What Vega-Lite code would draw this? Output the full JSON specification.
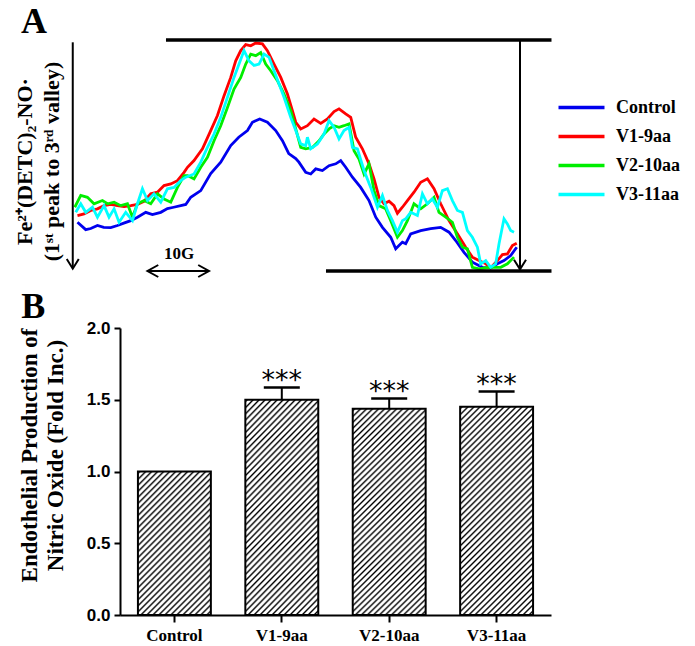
{
"$schema": "https://vega.github.io/schema/vega-lite/v6.json",
"background": "white",
"padding": {"left": 13, "top": 4, "right": 5, "bottom": 5},
"spacing": 8,
"config": {"view": {"stroke": null}, "font": "Liberation Serif"},
"datasets": {
"epr": [
{"series":"Control","field":0.75,"signal":21.1},{"series":"Control","field":2.06,"signal":17.9},{"series":"Control","field":2.86,"signal":18.4},{"series":"Control","field":3.92,"signal":19.7},{"series":"Control","field":4.92,"signal":18.9},{"series":"Control","field":6.03,"signal":18.8},{"series":"Control","field":7.1,"signal":19.7},{"series":"Control","field":8.1,"signal":20.7},{"series":"Control","field":9.21,"signal":21.8},{"series":"Control","field":10.27,"signal":23.3},{"series":"Control","field":11.59,"signal":25.4},{"series":"Control","field":12.65,"signal":24.4},{"series":"Control","field":13.97,"signal":25.4},{"series":"Control","field":15.03,"signal":27.0},{"series":"Control","field":16.03,"signal":27.6},{"series":"Control","field":17.14,"signal":28.3},{"series":"Control","field":17.94,"signal":28.8},{"series":"Control","field":18.73,"signal":31.9},{"series":"Control","field":20.32,"signal":34.8},{"series":"Control","field":21.9,"signal":42.2},{"series":"Control","field":23.49,"signal":47.1},{"series":"Control","field":25.08,"signal":54.3},{"series":"Control","field":26.35,"signal":57.9},{"series":"Control","field":27.73,"signal":60.8},{"series":"Control","field":28.52,"signal":64.4},{"series":"Control","field":29.68,"signal":65.8},{"series":"Control","field":30.9,"signal":64.4},{"series":"Control","field":32.22,"signal":60.8},{"series":"Control","field":33.29,"signal":56.4},{"series":"Control","field":34.29,"signal":50.8},{"series":"Control","field":35.4,"signal":48.7},{"series":"Control","field":35.9,"signal":47.1},{"series":"Control","field":36.98,"signal":42.7},{"series":"Control","field":37.78,"signal":42.0},{"series":"Control","field":38.57,"signal":44.2},{"series":"Control","field":39.63,"signal":43.5},{"series":"Control","field":40.68,"signal":45.6},{"series":"Control","field":41.75,"signal":46.4},{"series":"Control","field":42.54,"signal":47.8},{"series":"Control","field":43.33,"signal":44.9},{"series":"Control","field":44.4,"signal":40.6},{"series":"Control","field":45.71,"signal":36.2},{"series":"Control","field":47.03,"signal":30.5},{"series":"Control","field":48.1,"signal":23.3},{"series":"Control","field":49.16,"signal":18.9},{"series":"Control","field":50.48,"signal":14.6},{"series":"Control","field":51.27,"signal":9.6},{"series":"Control","field":52.33,"signal":12.5},{"series":"Control","field":52.86,"signal":11.8},{"series":"Control","field":53.65,"signal":16.1},{"series":"Control","field":55.24,"signal":17.5},{"series":"Control","field":56.83,"signal":18.3},{"series":"Control","field":58.41,"signal":18.9},{"series":"Control","field":59.73,"signal":16.8},{"series":"Control","field":60.79,"signal":13.2},{"series":"Control","field":62.11,"signal":8.1},{"series":"Control","field":63.44,"signal":3.8},{"series":"Control","field":65.03,"signal":1.6},{"series":"Control","field":66.35,"signal":1.4},{"series":"Control","field":67.41,"signal":3.1},{"series":"Control","field":68.46,"signal":4.5},{"series":"Control","field":69.52,"signal":6.7},{"series":"Control","field":70.48,"signal":10.3},
{"series":"V1-9aa","field":0.75,"signal":24.0},{"series":"V1-9aa","field":1.79,"signal":24.7},{"series":"V1-9aa","field":2.86,"signal":26.2},{"series":"V1-9aa","field":3.92,"signal":26.9},{"series":"V1-9aa","field":4.97,"signal":28.3},{"series":"V1-9aa","field":6.03,"signal":28.8},{"series":"V1-9aa","field":7.1,"signal":28.3},{"series":"V1-9aa","field":8.14,"signal":27.9},{"series":"V1-9aa","field":9.21,"signal":28.3},{"series":"V1-9aa","field":10.27,"signal":28.8},{"series":"V1-9aa","field":11.32,"signal":30.2},{"series":"V1-9aa","field":12.38,"signal":33.4},{"series":"V1-9aa","field":13.44,"signal":34.1},{"series":"V1-9aa","field":14.49,"signal":37.0},{"series":"V1-9aa","field":15.56,"signal":37.7},{"series":"V1-9aa","field":16.62,"signal":39.1},{"series":"V1-9aa","field":17.67,"signal":42.7},{"series":"V1-9aa","field":18.21,"signal":44.9},{"series":"V1-9aa","field":19.25,"signal":47.8},{"series":"V1-9aa","field":20.59,"signal":52.9},{"series":"V1-9aa","field":21.9,"signal":60.8},{"series":"V1-9aa","field":22.97,"signal":67.3},{"series":"V1-9aa","field":24.02,"signal":75.9},{"series":"V1-9aa","field":25.08,"signal":83.8},{"series":"V1-9aa","field":25.87,"signal":91.0},{"series":"V1-9aa","field":26.67,"signal":95.4},{"series":"V1-9aa","field":27.46,"signal":98.0},{"series":"V1-9aa","field":28.25,"signal":97.5},{"series":"V1-9aa","field":29.05,"signal":98.7},{"series":"V1-9aa","field":30.11,"signal":98.3},{"series":"V1-9aa","field":30.9,"signal":95.4},{"series":"V1-9aa","field":31.95,"signal":89.6},{"series":"V1-9aa","field":33.02,"signal":83.8},{"series":"V1-9aa","field":34.08,"signal":76.6},{"series":"V1-9aa","field":34.87,"signal":69.4},{"series":"V1-9aa","field":35.4,"signal":64.4},{"series":"V1-9aa","field":36.19,"signal":61.5},{"series":"V1-9aa","field":37.25,"signal":62.9},{"series":"V1-9aa","field":38.3,"signal":65.8},{"series":"V1-9aa","field":39.37,"signal":63.9},{"series":"V1-9aa","field":40.43,"signal":65.8},{"series":"V1-9aa","field":41.48,"signal":69.0},{"series":"V1-9aa","field":42.27,"signal":70.2},{"series":"V1-9aa","field":43.33,"signal":68.0},{"series":"V1-9aa","field":44.13,"signal":66.5},{"series":"V1-9aa","field":44.92,"signal":57.9},{"series":"V1-9aa","field":45.98,"signal":52.9},{"series":"V1-9aa","field":47.03,"signal":46.4},{"series":"V1-9aa","field":47.83,"signal":39.9},{"series":"V1-9aa","field":48.62,"signal":31.9},{"series":"V1-9aa","field":49.41,"signal":29.1},{"series":"V1-9aa","field":50.21,"signal":30.2},{"series":"V1-9aa","field":51.0,"signal":28.3},{"series":"V1-9aa","field":51.54,"signal":25.0},{"series":"V1-9aa","field":52.33,"signal":27.6},{"series":"V1-9aa","field":53.13,"signal":30.5},{"series":"V1-9aa","field":54.17,"signal":34.1},{"series":"V1-9aa","field":55.24,"signal":38.4},{"series":"V1-9aa","field":56.3,"signal":39.9},{"series":"V1-9aa","field":57.35,"signal":35.6},{"series":"V1-9aa","field":58.41,"signal":29.1},{"series":"V1-9aa","field":59.73,"signal":21.8},{"series":"V1-9aa","field":61.06,"signal":16.1},{"series":"V1-9aa","field":62.38,"signal":10.3},{"series":"V1-9aa","field":63.44,"signal":6.0},{"series":"V1-9aa","field":64.49,"signal":4.5},{"series":"V1-9aa","field":65.56,"signal":3.1},{"series":"V1-9aa","field":66.35,"signal":1.4},{"series":"V1-9aa","field":67.41,"signal":4.5},{"series":"V1-9aa","field":68.21,"signal":7.1},{"series":"V1-9aa","field":69.0,"signal":7.4},{"series":"V1-9aa","field":69.79,"signal":11.0},{"series":"V1-9aa","field":70.48,"signal":12.0},
{"series":"V2-10aa","field":0.32,"signal":27.6},{"series":"V2-10aa","field":1.27,"signal":32.7},{"series":"V2-10aa","field":2.33,"signal":31.9},{"series":"V2-10aa","field":3.38,"signal":29.1},{"series":"V2-10aa","field":4.71,"signal":30.5},{"series":"V2-10aa","field":5.51,"signal":29.1},{"series":"V2-10aa","field":6.56,"signal":29.8},{"series":"V2-10aa","field":7.62,"signal":28.3},{"series":"V2-10aa","field":8.68,"signal":29.1},{"series":"V2-10aa","field":9.48,"signal":23.3},{"series":"V2-10aa","field":10.27,"signal":29.1},{"series":"V2-10aa","field":11.32,"signal":30.5},{"series":"V2-10aa","field":12.38,"signal":29.1},{"series":"V2-10aa","field":13.44,"signal":33.4},{"series":"V2-10aa","field":14.49,"signal":31.2},{"series":"V2-10aa","field":15.56,"signal":29.8},{"series":"V2-10aa","field":16.62,"signal":36.2},{"series":"V2-10aa","field":17.67,"signal":41.3},{"series":"V2-10aa","field":18.21,"signal":41.3},{"series":"V2-10aa","field":19.25,"signal":39.9},{"series":"V2-10aa","field":20.32,"signal":44.9},{"series":"V2-10aa","field":21.38,"signal":49.2},{"series":"V2-10aa","field":22.43,"signal":56.4},{"series":"V2-10aa","field":23.49,"signal":62.9},{"series":"V2-10aa","field":24.56,"signal":70.8},{"series":"V2-10aa","field":25.6,"signal":78.8},{"series":"V2-10aa","field":26.67,"signal":83.8},{"series":"V2-10aa","field":27.46,"signal":89.6},{"series":"V2-10aa","field":28.25,"signal":93.9},{"series":"V2-10aa","field":29.05,"signal":93.2},{"series":"V2-10aa","field":29.84,"signal":94.6},{"series":"V2-10aa","field":30.63,"signal":89.6},{"series":"V2-10aa","field":31.43,"signal":86.7},{"series":"V2-10aa","field":32.49,"signal":82.4},{"series":"V2-10aa","field":33.54,"signal":76.6},{"series":"V2-10aa","field":34.6,"signal":69.4},{"series":"V2-10aa","field":35.4,"signal":61.5},{"series":"V2-10aa","field":36.19,"signal":53.5},{"series":"V2-10aa","field":36.98,"signal":52.9},{"series":"V2-10aa","field":38.05,"signal":53.5},{"series":"V2-10aa","field":39.1,"signal":56.4},{"series":"V2-10aa","field":39.89,"signal":59.3},{"series":"V2-10aa","field":40.68,"signal":61.5},{"series":"V2-10aa","field":41.48,"signal":62.9},{"series":"V2-10aa","field":42.27,"signal":62.2},{"series":"V2-10aa","field":43.06,"signal":62.9},{"series":"V2-10aa","field":43.86,"signal":63.7},{"series":"V2-10aa","field":44.65,"signal":52.1},{"series":"V2-10aa","field":45.44,"signal":48.5},{"series":"V2-10aa","field":46.24,"signal":42.0},{"series":"V2-10aa","field":47.03,"signal":46.4},{"series":"V2-10aa","field":47.83,"signal":34.8},{"series":"V2-10aa","field":48.62,"signal":28.3},{"series":"V2-10aa","field":49.68,"signal":26.9},{"series":"V2-10aa","field":50.48,"signal":21.8},{"series":"V2-10aa","field":51.54,"signal":14.6},{"series":"V2-10aa","field":52.33,"signal":17.5},{"series":"V2-10aa","field":53.13,"signal":21.8},{"series":"V2-10aa","field":54.17,"signal":29.1},{"series":"V2-10aa","field":55.24,"signal":26.9},{"series":"V2-10aa","field":56.3,"signal":29.1},{"series":"V2-10aa","field":57.35,"signal":31.9},{"series":"V2-10aa","field":58.14,"signal":25.4},{"series":"V2-10aa","field":59.21,"signal":23.3},{"series":"V2-10aa","field":60.27,"signal":21.1},{"series":"V2-10aa","field":61.06,"signal":14.6},{"series":"V2-10aa","field":61.86,"signal":10.3},{"series":"V2-10aa","field":62.65,"signal":9.6},{"series":"V2-10aa","field":63.44,"signal":1.6},{"series":"V2-10aa","field":64.49,"signal":0.95},{"series":"V2-10aa","field":65.56,"signal":1.4},{"series":"V2-10aa","field":66.62,"signal":1.6},{"series":"V2-10aa","field":67.94,"signal":1.6},{"series":"V2-10aa","field":69.0,"signal":3.1},{"series":"V2-10aa","field":70.05,"signal":6.0},
{"series":"V3-11aa","field":0.48,"signal":25.4},{"series":"V3-11aa","field":1.27,"signal":29.1},{"series":"V3-11aa","field":2.06,"signal":25.4},{"series":"V3-11aa","field":3.13,"signal":27.6},{"series":"V3-11aa","field":3.92,"signal":23.3},{"series":"V3-11aa","field":4.97,"signal":28.3},{"series":"V3-11aa","field":5.76,"signal":23.3},{"series":"V3-11aa","field":6.56,"signal":26.9},{"series":"V3-11aa","field":7.35,"signal":21.1},{"series":"V3-11aa","field":8.41,"signal":25.4},{"series":"V3-11aa","field":9.48,"signal":21.8},{"series":"V3-11aa","field":10.27,"signal":29.1},{"series":"V3-11aa","field":11.06,"signal":35.6},{"series":"V3-11aa","field":11.86,"signal":30.5},{"series":"V3-11aa","field":12.9,"signal":33.4},{"series":"V3-11aa","field":13.97,"signal":29.8},{"series":"V3-11aa","field":15.03,"signal":35.6},{"series":"V3-11aa","field":16.08,"signal":36.2},{"series":"V3-11aa","field":17.14,"signal":39.1},{"series":"V3-11aa","field":17.94,"signal":40.6},{"series":"V3-11aa","field":19.25,"signal":42.0},{"series":"V3-11aa","field":20.32,"signal":47.1},{"series":"V3-11aa","field":21.38,"signal":53.5},{"series":"V3-11aa","field":22.43,"signal":59.3},{"series":"V3-11aa","field":23.49,"signal":66.5},{"series":"V3-11aa","field":24.56,"signal":75.2},{"series":"V3-11aa","field":25.6,"signal":83.8},{"series":"V3-11aa","field":26.4,"signal":89.6},{"series":"V3-11aa","field":27.19,"signal":95.4},{"series":"V3-11aa","field":27.98,"signal":91.0},{"series":"V3-11aa","field":28.78,"signal":89.0},{"series":"V3-11aa","field":29.57,"signal":89.6},{"series":"V3-11aa","field":30.37,"signal":93.9},{"series":"V3-11aa","field":31.16,"signal":92.5},{"series":"V3-11aa","field":31.95,"signal":86.7},{"series":"V3-11aa","field":32.75,"signal":81.0},{"series":"V3-11aa","field":33.54,"signal":75.2},{"series":"V3-11aa","field":34.6,"signal":66.5},{"series":"V3-11aa","field":35.4,"signal":60.8},{"series":"V3-11aa","field":36.19,"signal":55.0},{"series":"V3-11aa","field":36.98,"signal":54.3},{"series":"V3-11aa","field":37.25,"signal":57.9},{"series":"V3-11aa","field":37.78,"signal":52.9},{"series":"V3-11aa","field":38.84,"signal":55.0},{"series":"V3-11aa","field":39.89,"signal":59.3},{"series":"V3-11aa","field":40.68,"signal":65.1},{"series":"V3-11aa","field":41.48,"signal":62.2},{"series":"V3-11aa","field":42.27,"signal":57.2},{"series":"V3-11aa","field":43.06,"signal":60.8},{"series":"V3-11aa","field":43.86,"signal":62.2},{"series":"V3-11aa","field":44.4,"signal":53.5},{"series":"V3-11aa","field":45.19,"signal":52.9},{"series":"V3-11aa","field":46.24,"signal":43.5},{"series":"V3-11aa","field":47.3,"signal":36.2},{"series":"V3-11aa","field":48.37,"signal":27.6},{"series":"V3-11aa","field":49.16,"signal":32.7},{"series":"V3-11aa","field":49.95,"signal":26.2},{"series":"V3-11aa","field":50.75,"signal":21.8},{"series":"V3-11aa","field":51.54,"signal":16.8},{"series":"V3-11aa","field":52.33,"signal":21.8},{"series":"V3-11aa","field":52.86,"signal":22.6},{"series":"V3-11aa","field":53.65,"signal":25.4},{"series":"V3-11aa","field":54.71,"signal":24.0},{"series":"V3-11aa","field":55.51,"signal":33.4},{"series":"V3-11aa","field":56.3,"signal":29.1},{"series":"V3-11aa","field":57.1,"signal":31.2},{"series":"V3-11aa","field":57.89,"signal":27.6},{"series":"V3-11aa","field":58.68,"signal":34.8},{"series":"V3-11aa","field":59.48,"signal":35.6},{"series":"V3-11aa","field":60.27,"signal":30.5},{"series":"V3-11aa","field":61.06,"signal":26.2},{"series":"V3-11aa","field":61.86,"signal":25.4},{"series":"V3-11aa","field":62.65,"signal":17.5},{"series":"V3-11aa","field":63.44,"signal":14.6},{"series":"V3-11aa","field":64.24,"signal":10.3},{"series":"V3-11aa","field":64.76,"signal":3.1},{"series":"V3-11aa","field":65.56,"signal":4.5},{"series":"V3-11aa","field":66.35,"signal":1.6},{"series":"V3-11aa","field":67.14,"signal":3.1},{"series":"V3-11aa","field":67.67,"signal":11.8},{"series":"V3-11aa","field":68.46,"signal":22.6},{"series":"V3-11aa","field":69.0,"signal":20.4},{"series":"V3-11aa","field":69.52,"signal":17.5},{"series":"V3-11aa","field":70.05,"signal":16.8}
],
"bars": [
{"group":"Control","value":1.0,"upper":1.0,"sig":""},
{"group":"V1-9aa","value":1.5,"upper":1.586,"sig":"***"},
{"group":"V2-10aa","value":1.437,"upper":1.509,"sig":"***"},
{"group":"V3-11aa","value":1.451,"upper":1.558,"sig":"***"}
]
},
"vconcat": [
{
"title": {"text": "A", "anchor": "start", "frame": "bounds", "font": "Liberation Serif", "fontWeight": "bold", "fontSize": 36, "color": "black", "offset": -4, "dx": 8},
"width": 432,
"height": 231,
"layer": [
{
"data": {"name": "epr"},
"mark": {"type": "line", "strokeWidth": 2.8, "clip": false},
"encoding": {
"x": {"field": "field", "type": "quantitative", "scale": {"domain": [7.5, 76.08], "nice": false, "zero": false}, "axis": null},
"y": {"field": "signal", "type": "quantitative", "scale": {"domain": [0, 100], "nice": false}, "axis": {"title": ["Fe²⁺(DETC)₂-NO·", "(1ˢᵗ peak to 3ʳᵈ valley)"], "titleFont": "Liberation Serif", "titleFontWeight": "bold", "titleFontSize": 22, "titleColor": "black", "titleLineHeight": 27, "titlePadding": 57, "titleY": 121, "labels": false, "ticks": false, "domain": false, "grid": false}},
"color": {"field": "series", "type": "nominal", "scale": {"domain": ["Control", "V1-9aa", "V2-10aa", "V3-11aa"], "range": ["#0000ee", "#ff0000", "#00ee00", "#00ffff"]}, "legend": {"orient": "none", "legendX": 452, "legendY": 58, "title": null, "symbolType": "M-3,0H3", "symbolSize": 235, "symbolStrokeWidth": 3.5, "labelFont": "Liberation Serif", "labelFontWeight": "bold", "labelFontSize": 18, "labelColor": "black", "rowPadding": 10, "labelOffset": 25}}
}
},
{"data": {"values": [{}]}, "mark": {"type": "rule", "strokeWidth": 3.3, "color": "black"}, "encoding": {"x": {"datum": 14.8}, "x2": {"datum": 76.0}, "y": {"datum": 100}}},
{"data": {"values": [{}]}, "mark": {"type": "rule", "strokeWidth": 3.3, "color": "black"}, "encoding": {"x": {"datum": 40.2}, "x2": {"datum": 76.0}, "y": {"datum": 0}}},
{"data": {"values": [{}]}, "mark": {"type": "rule", "strokeWidth": 2, "color": "black"}, "encoding": {"x": {"datum": 71.0}, "y": {"datum": 100}, "y2": {"datum": 0.8}}},
{"data": {"values": [{}]}, "mark": {"type": "rule", "strokeWidth": 2, "color": "black"}, "encoding": {"x": {"datum": 0}, "y": {"datum": 99}, "y2": {"datum": 1.2}}},
{"data": {"values": [{}]}, "mark": {"type": "point", "shape": "M-1,-1.6L0,0L1,-1.6", "filled": false, "size": 144, "strokeWidth": 2, "color": "black", "opacity": 1}, "encoding": {"x": {"datum": 71.0}, "y": {"datum": 0.7}}},
{"data": {"values": [{}]}, "mark": {"type": "point", "shape": "M-1,-1.6L0,0L1,-1.6", "filled": false, "size": 144, "strokeWidth": 2, "color": "black", "opacity": 1}, "encoding": {"x": {"datum": 0}, "y": {"datum": 1.0}}},
{"data": {"values": [{}]}, "mark": {"type": "rule", "strokeWidth": 2, "color": "black"}, "encoding": {"x": {"datum": 11.86}, "x2": {"datum": 21.63}, "y": {"datum": 0}}},
{"data": {"values": [{}]}, "mark": {"type": "point", "shape": "M1.8,-1L0,0L1.8,1", "filled": false, "size": 144, "strokeWidth": 2, "color": "black", "opacity": 1}, "encoding": {"x": {"datum": 11.86}, "y": {"datum": 0}}},
{"data": {"values": [{}]}, "mark": {"type": "point", "shape": "M-1.8,-1L0,0L-1.8,1", "filled": false, "size": 144, "strokeWidth": 2, "color": "black", "opacity": 1}, "encoding": {"x": {"datum": 21.63}, "y": {"datum": 0}}},
{"data": {"values": [{"label": "10G"}]}, "mark": {"type": "text", "font": "Liberation Serif", "fontWeight": "bold", "fontSize": 17, "color": "black", "baseline": "alphabetic", "align": "center"}, "encoding": {"x": {"datum": 16.9}, "y": {"datum": 5.4}, "text": {"field": "label"}}}
]
},
{
"title": {"text": "B", "anchor": "start", "frame": "bounds", "font": "Liberation Serif", "fontWeight": "bold", "fontSize": 36, "color": "black", "offset": -7, "dx": 3},
"width": 431,
"height": 287,
"data": {"name": "bars"},
"encoding": {
"x": {"field": "group", "type": "nominal", "sort": null, "scale": {"domain": ["Control", "V1-9aa", "V2-10aa", "V3-11aa"], "paddingInner": 0.321, "paddingOuter": 0.167}, "axis": {"title": null, "labelFont": "Liberation Serif", "labelFontWeight": "bold", "labelFontSize": 17, "labelColor": "black", "labelAngle": 0, "tickColor": "black", "tickWidth": 2, "tickSize": 7, "domainColor": "black", "domainWidth": 2, "labelPadding": 5}}
},
"layer": [
{
"transform": [{"filter": "datum.group === 'Control'"}],
"mark": {"type": "bar", "stroke": "black", "strokeWidth": 2, "fill": {"gradient": "linear", "x1": 0, "y1": 0, "x2": 0.6117, "y2": 1.1982, "stops": [
{"offset":0,"color":"#fff"},{"offset":0.0083,"color":"#000"},{"offset":0.0181,"color":"#fff"},
{"offset":0.0278,"color":"#fff"},{"offset":0.0361,"color":"#000"},{"offset":0.0459,"color":"#fff"},
{"offset":0.0556,"color":"#fff"},{"offset":0.0639,"color":"#000"},{"offset":0.0737,"color":"#fff"},
{"offset":0.0833,"color":"#fff"},{"offset":0.0916,"color":"#000"},{"offset":0.1014,"color":"#fff"},
{"offset":0.1111,"color":"#fff"},{"offset":0.1194,"color":"#000"},{"offset":0.1292,"color":"#fff"},
{"offset":0.1389,"color":"#fff"},{"offset":0.1472,"color":"#000"},{"offset":0.157,"color":"#fff"},
{"offset":0.1667,"color":"#fff"},{"offset":0.175,"color":"#000"},{"offset":0.1848,"color":"#fff"},
{"offset":0.1944,"color":"#fff"},{"offset":0.2027,"color":"#000"},{"offset":0.2125,"color":"#fff"},
{"offset":0.2222,"color":"#fff"},{"offset":0.2305,"color":"#000"},{"offset":0.2403,"color":"#fff"},
{"offset":0.25,"color":"#fff"},{"offset":0.2583,"color":"#000"},{"offset":0.2681,"color":"#fff"},
{"offset":0.2778,"color":"#fff"},{"offset":0.2861,"color":"#000"},{"offset":0.2959,"color":"#fff"},
{"offset":0.3056,"color":"#fff"},{"offset":0.3139,"color":"#000"},{"offset":0.3237,"color":"#fff"},
{"offset":0.3333,"color":"#fff"},{"offset":0.3416,"color":"#000"},{"offset":0.3514,"color":"#fff"},
{"offset":0.3611,"color":"#fff"},{"offset":0.3694,"color":"#000"},{"offset":0.3792,"color":"#fff"},
{"offset":0.3889,"color":"#fff"},{"offset":0.3972,"color":"#000"},{"offset":0.407,"color":"#fff"},
{"offset":0.4167,"color":"#fff"},{"offset":0.425,"color":"#000"},{"offset":0.4348,"color":"#fff"},
{"offset":0.4444,"color":"#fff"},{"offset":0.4527,"color":"#000"},{"offset":0.4625,"color":"#fff"},
{"offset":0.4722,"color":"#fff"},{"offset":0.4805,"color":"#000"},{"offset":0.4903,"color":"#fff"},
{"offset":0.5,"color":"#fff"},{"offset":0.5083,"color":"#000"},{"offset":0.5181,"color":"#fff"},
{"offset":0.5278,"color":"#fff"},{"offset":0.5361,"color":"#000"},{"offset":0.5459,"color":"#fff"},
{"offset":0.5556,"color":"#fff"},{"offset":0.5639,"color":"#000"},{"offset":0.5737,"color":"#fff"},
{"offset":0.5833,"color":"#fff"},{"offset":0.5916,"color":"#000"},{"offset":0.6014,"color":"#fff"},
{"offset":0.6111,"color":"#fff"},{"offset":0.6194,"color":"#000"},{"offset":0.6292,"color":"#fff"},
{"offset":0.6389,"color":"#fff"},{"offset":0.6472,"color":"#000"},{"offset":0.657,"color":"#fff"},
{"offset":0.6667,"color":"#fff"},{"offset":0.675,"color":"#000"},{"offset":0.6848,"color":"#fff"},
{"offset":0.6944,"color":"#fff"},{"offset":0.7027,"color":"#000"},{"offset":0.7125,"color":"#fff"},
{"offset":0.7222,"color":"#fff"},{"offset":0.7305,"color":"#000"},{"offset":0.7403,"color":"#fff"},
{"offset":0.75,"color":"#fff"},{"offset":0.7583,"color":"#000"},{"offset":0.7681,"color":"#fff"},
{"offset":0.7778,"color":"#fff"},{"offset":0.7861,"color":"#000"},{"offset":0.7959,"color":"#fff"},
{"offset":0.8056,"color":"#fff"},{"offset":0.8139,"color":"#000"},{"offset":0.8237,"color":"#fff"},
{"offset":0.8333,"color":"#fff"},{"offset":0.8416,"color":"#000"},{"offset":0.8514,"color":"#fff"},
{"offset":0.8611,"color":"#fff"},{"offset":0.8694,"color":"#000"},{"offset":0.8792,"color":"#fff"},
{"offset":0.8889,"color":"#fff"},{"offset":0.8972,"color":"#000"},{"offset":0.907,"color":"#fff"},
{"offset":0.9167,"color":"#fff"},{"offset":0.925,"color":"#000"},{"offset":0.9348,"color":"#fff"},
{"offset":0.9444,"color":"#fff"},{"offset":0.9527,"color":"#000"},{"offset":0.9625,"color":"#fff"},
{"offset":0.9722,"color":"#fff"},{"offset":0.9805,"color":"#000"},{"offset":0.9903,"color":"#fff"},
{"offset":1,"color":"#fff"}
]}},
"encoding": {"y": {"field": "value", "type": "quantitative", "scale": {"domain": [0, 2], "nice": false}, "axis": {"title": ["Endothelial Production of", "Nitric Oxide (Fold Inc.)"], "titleFont": "Liberation Serif", "titleFontWeight": "bold", "titleFontSize": 23, "titleColor": "black", "titleLineHeight": 26, "titlePadding": 19, "titleY": 127, "values": [0, 0.5, 1, 1.5, 2], "format": ".1f", "labelFont": "Liberation Sans", "labelFontWeight": "bold", "labelFontSize": 17, "labelColor": "black", "labelPadding": 4, "tickColor": "black", "tickWidth": 2, "tickSize": 6, "domainColor": "black", "domainWidth": 2, "grid": false}}}
},
{
"transform": [{"filter": "datum.group !== 'Control'"}],
"mark": {"type": "bar", "stroke": "black", "strokeWidth": 2, "fill": {"gradient": "linear", "x1": 0, "y1": 0, "x2": 0.418, "y2": 1.2023, "stops": [
{"offset":0,"color":"#fff"},{"offset":0.0064,"color":"#000"},{"offset":0.0138,"color":"#fff"},
{"offset":0.0213,"color":"#fff"},{"offset":0.0277,"color":"#000"},{"offset":0.0351,"color":"#fff"},
{"offset":0.0426,"color":"#fff"},{"offset":0.049,"color":"#000"},{"offset":0.0564,"color":"#fff"},
{"offset":0.0638,"color":"#fff"},{"offset":0.0702,"color":"#000"},{"offset":0.0776,"color":"#fff"},
{"offset":0.0851,"color":"#fff"},{"offset":0.0915,"color":"#000"},{"offset":0.0989,"color":"#fff"},
{"offset":0.1064,"color":"#fff"},{"offset":0.1128,"color":"#000"},{"offset":0.1202,"color":"#fff"},
{"offset":0.1277,"color":"#fff"},{"offset":0.1341,"color":"#000"},{"offset":0.1415,"color":"#fff"},
{"offset":0.1489,"color":"#fff"},{"offset":0.1553,"color":"#000"},{"offset":0.1627,"color":"#fff"},
{"offset":0.1702,"color":"#fff"},{"offset":0.1766,"color":"#000"},{"offset":0.184,"color":"#fff"},
{"offset":0.1915,"color":"#fff"},{"offset":0.1979,"color":"#000"},{"offset":0.2053,"color":"#fff"},
{"offset":0.2128,"color":"#fff"},{"offset":0.2192,"color":"#000"},{"offset":0.2266,"color":"#fff"},
{"offset":0.234,"color":"#fff"},{"offset":0.2404,"color":"#000"},{"offset":0.2478,"color":"#fff"},
{"offset":0.2553,"color":"#fff"},{"offset":0.2617,"color":"#000"},{"offset":0.2691,"color":"#fff"},
{"offset":0.2766,"color":"#fff"},{"offset":0.283,"color":"#000"},{"offset":0.2904,"color":"#fff"},
{"offset":0.2979,"color":"#fff"},{"offset":0.3043,"color":"#000"},{"offset":0.3117,"color":"#fff"},
{"offset":0.3191,"color":"#fff"},{"offset":0.3255,"color":"#000"},{"offset":0.3329,"color":"#fff"},
{"offset":0.3404,"color":"#fff"},{"offset":0.3468,"color":"#000"},{"offset":0.3542,"color":"#fff"},
{"offset":0.3617,"color":"#fff"},{"offset":0.3681,"color":"#000"},{"offset":0.3755,"color":"#fff"},
{"offset":0.383,"color":"#fff"},{"offset":0.3894,"color":"#000"},{"offset":0.3968,"color":"#fff"},
{"offset":0.4043,"color":"#fff"},{"offset":0.4107,"color":"#000"},{"offset":0.4181,"color":"#fff"},
{"offset":0.4255,"color":"#fff"},{"offset":0.4319,"color":"#000"},{"offset":0.4393,"color":"#fff"},
{"offset":0.4468,"color":"#fff"},{"offset":0.4532,"color":"#000"},{"offset":0.4606,"color":"#fff"},
{"offset":0.4681,"color":"#fff"},{"offset":0.4745,"color":"#000"},{"offset":0.4819,"color":"#fff"},
{"offset":0.4894,"color":"#fff"},{"offset":0.4958,"color":"#000"},{"offset":0.5032,"color":"#fff"},
{"offset":0.5106,"color":"#fff"},{"offset":0.517,"color":"#000"},{"offset":0.5244,"color":"#fff"},
{"offset":0.5319,"color":"#fff"},{"offset":0.5383,"color":"#000"},{"offset":0.5457,"color":"#fff"},
{"offset":0.5532,"color":"#fff"},{"offset":0.5596,"color":"#000"},{"offset":0.567,"color":"#fff"},
{"offset":0.5745,"color":"#fff"},{"offset":0.5809,"color":"#000"},{"offset":0.5883,"color":"#fff"},
{"offset":0.5957,"color":"#fff"},{"offset":0.6021,"color":"#000"},{"offset":0.6095,"color":"#fff"},
{"offset":0.617,"color":"#fff"},{"offset":0.6234,"color":"#000"},{"offset":0.6308,"color":"#fff"},
{"offset":0.6383,"color":"#fff"},{"offset":0.6447,"color":"#000"},{"offset":0.6521,"color":"#fff"},
{"offset":0.6596,"color":"#fff"},{"offset":0.666,"color":"#000"},{"offset":0.6734,"color":"#fff"},
{"offset":0.6809,"color":"#fff"},{"offset":0.6873,"color":"#000"},{"offset":0.6947,"color":"#fff"},
{"offset":0.7021,"color":"#fff"},{"offset":0.7085,"color":"#000"},{"offset":0.7159,"color":"#fff"},
{"offset":0.7234,"color":"#fff"},{"offset":0.7298,"color":"#000"},{"offset":0.7372,"color":"#fff"},
{"offset":0.7447,"color":"#fff"},{"offset":0.7511,"color":"#000"},{"offset":0.7585,"color":"#fff"},
{"offset":0.766,"color":"#fff"},{"offset":0.7724,"color":"#000"},{"offset":0.7798,"color":"#fff"},
{"offset":0.7872,"color":"#fff"},{"offset":0.7936,"color":"#000"},{"offset":0.801,"color":"#fff"},
{"offset":0.8085,"color":"#fff"},{"offset":0.8149,"color":"#000"},{"offset":0.8223,"color":"#fff"},
{"offset":0.8298,"color":"#fff"},{"offset":0.8362,"color":"#000"},{"offset":0.8436,"color":"#fff"},
{"offset":0.8511,"color":"#fff"},{"offset":0.8575,"color":"#000"},{"offset":0.8649,"color":"#fff"},
{"offset":0.8723,"color":"#fff"},{"offset":0.8787,"color":"#000"},{"offset":0.8861,"color":"#fff"},
{"offset":0.8936,"color":"#fff"},{"offset":0.9,"color":"#000"},{"offset":0.9074,"color":"#fff"},
{"offset":0.9149,"color":"#fff"},{"offset":0.9213,"color":"#000"},{"offset":0.9287,"color":"#fff"},
{"offset":0.9362,"color":"#fff"},{"offset":0.9426,"color":"#000"},{"offset":0.95,"color":"#fff"},
{"offset":0.9574,"color":"#fff"},{"offset":0.9638,"color":"#000"},{"offset":0.9712,"color":"#fff"},
{"offset":0.9787,"color":"#fff"},{"offset":0.9851,"color":"#000"},{"offset":0.9925,"color":"#fff"},
{"offset":1,"color":"#fff"}
]}},
"encoding": {"y": {"field": "value", "type": "quantitative"}}
},
{
"transform": [{"filter": "datum.group !== 'Control'"}],
"mark": {"type": "rule", "strokeWidth": 2, "color": "black"},
"encoding": {"y": {"field": "value", "type": "quantitative"}, "y2": {"field": "upper"}}
},
{
"transform": [{"filter": "datum.group !== 'Control'"}],
"mark": {"type": "tick", "size": 36, "thickness": 2.5, "color": "black", "opacity": 1},
"encoding": {"y": {"field": "upper", "type": "quantitative"}}
},
{
"transform": [{"filter": "datum.group !== 'Control'"}],
"mark": {"type": "text", "font": "DejaVu Sans", "fontSize": 27, "baseline": "alphabetic", "align": "center", "dy": 2, "color": "black"},
"encoding": {"y": {"field": "upper", "type": "quantitative"}, "text": {"field": "sig"}}
}
]
}
]
}
